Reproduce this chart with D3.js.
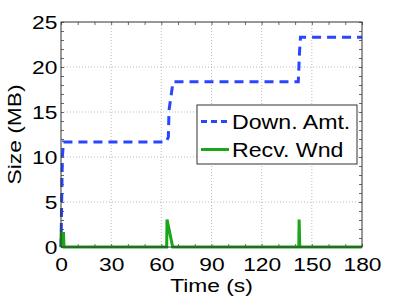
<!DOCTYPE html>
<html>
<head>
  <script src="https://cdnjs.cloudflare.com/ajax/libs/d3/7.8.5/d3.min.js"></script>
  <style>
  body { margin: 0; background: #fff; }
  svg { font-family: "Liberation Sans", Arial, sans-serif; }
  </style>
</head>
<body>
<script>

// values
var xTicks = [0, 30, 60, 90, 120, 150, 180];
var yTicks = [0, 5, 10, 15, 20, 25];

var downTime = [0, 0.8, 1.5, 62.8, 64.2, 64.6, 67, 141.9, 142.6, 143.2, 180];
var downSize = [0, 10, 11.67, 11.67, 12.2, 15.2, 18.35, 18.35, 21.5, 23.3, 23.3];

var recvTime = [0, 0.1, 1.5, 1.8, 63.2, 63.4, 66.8, 142.2, 142.4, 142.8, 180];
var recvSize = [0, 1.5, 1.5, 0, 0, 3.05, 0, 0, 3.05, 0, 0];

var seriesNames = ["Down. Amt.", "Recv. Wnd"];

var width = 399, height = 300;
var MARGINS = {left: 61, top: 22, right: 37, bottom: 53};
var blue = "#2846ff", green = "#1aa51a";
var stretch = 1.2;   // the text in the picture is wider than the font

var svg = d3.select("body").append("svg")
    .attr("width", width)
    .attr("height", height);

var xScale = d3.scaleLinear()
    .domain([0, 180])
    .range([MARGINS.left, width - MARGINS.right]);

var yScale = d3.scaleLinear()
    .domain([0, 25])
    .range([height - MARGINS.bottom, MARGINS.top]);

var x0 = xScale.range()[0], x1 = xScale.range()[1];
var y0 = yScale.range()[0], y1 = yScale.range()[1];

// dotted grid
svg.append("g").selectAll("line.gx")
    .data(xTicks.slice(1, -1))
    .enter().append("line")
    .attr("x1", d => xScale(d)).attr("x2", d => xScale(d))
    .attr("y1", y1).attr("y2", y0)
    .attr("stroke", "#aaa").attr("stroke-width", 0.8)
    .attr("stroke-dasharray", "1,2");

svg.append("g").selectAll("line.gy")
    .data(yTicks.slice(1, -1))
    .enter().append("line")
    .attr("x1", x0).attr("x2", x1)
    .attr("y1", d => yScale(d)).attr("y2", d => yScale(d))
    .attr("stroke", "#aaa").attr("stroke-width", 0.8)
    .attr("stroke-dasharray", "1,2");

// minor ticks, inward on all sides
var minorX = d3.range(0, 181, 10);
var minorY = d3.range(0, 26, 1);

function tickAxis(axis, tr, size, vals) {
  var g = svg.append("g")
      .attr("transform", tr)
      .call(axis.tickValues(vals).tickSize(size).tickFormat(""));
  g.select(".domain").remove();
  g.selectAll(".tick line").attr("stroke", "#444").attr("stroke-width", 0.8);
  return g;
}

tickAxis(d3.axisBottom(xScale), "translate(0," + y0 + ")", -3, minorX);
tickAxis(d3.axisTop(xScale), "translate(0," + y1 + ")", -3, minorX);
tickAxis(d3.axisLeft(yScale), "translate(" + x0 + ",0)", -3, minorY);
tickAxis(d3.axisRight(yScale), "translate(" + x1 + ",0)", -3, minorY);

// labelled axes
var xAxisGroup = svg.append("g")
    .attr("transform", "translate(0," + y0 + ")")
    .call(d3.axisBottom(xScale).tickValues(xTicks).tickSize(0).tickPadding(11));
xAxisGroup.select(".domain").remove();
xAxisGroup.selectAll("text")
    .attr("font-size", "19px").attr("fill", "#000")
    .attr("font-family", "Liberation Sans, Arial, sans-serif")
    .attr("transform", "scale(" + stretch + ",1)");

var yAxisGroup = svg.append("g")
    .attr("transform", "translate(" + x0 + ",0)")
    .call(d3.axisLeft(yScale).tickValues(yTicks).tickSize(0).tickPadding(3));
yAxisGroup.select(".domain").remove();
yAxisGroup.selectAll("text")
    .attr("font-size", "19px").attr("fill", "#000")
    .attr("font-family", "Liberation Sans, Arial, sans-serif")
    .attr("transform", "scale(" + stretch + ",1)");

// lines
var downLine = d3.line()
    .x((d, i) => xScale(downTime[i]))
    .y(d => yScale(d));

var recvLine = d3.line()
    .x((d, i) => xScale(recvTime[i]))
    .y(d => yScale(d));

svg.append("path")
    .datum(downSize)
    .attr("d", downLine)
    .attr("fill", "none")
    .attr("stroke", blue)
    .attr("stroke-width", 3)
    .attr("stroke-dasharray", "9,6");

svg.append("path")
    .datum(recvSize)
    .attr("d", recvLine)
    .attr("fill", "none")
    .attr("stroke", green)
    .attr("stroke-width", 3);

// frame
svg.append("rect")
    .attr("x", x0).attr("y", y1)
    .attr("width", x1 - x0).attr("height", y0 - y1)
    .attr("fill", "none")
    .attr("stroke", "#333")
    .attr("stroke-width", 1);

// stretched text helper
function label(g, x, y, rot, size, anchor, str) {
  g.append("g")
    .attr("transform", "translate(" + x + "," + y + ") rotate(" + rot + ") scale(" + stretch + ",1)")
    .append("text")
    .attr("text-anchor", anchor)
    .attr("font-size", size)
    .text(str);
}

// axis titles
label(svg, (x0 + x1) / 2, 292, 0, "19px", "middle", "Time (s)");
label(svg, 21, (y0 + y1) / 2, -90, "19px", "middle", "Size (MB)");

// legend
var legend = svg.append("g");
legend.append("rect")
    .attr("x", 197).attr("y", 105)
    .attr("width", 160).attr("height", 59)
    .attr("fill", "#fff")
    .attr("stroke", "#333")
    .attr("stroke-width", 1);

var legendRows = [
  {name: seriesNames[0], color: blue, dash: "6,4", y: 121.5},
  {name: seriesNames[1], color: green, dash: null, y: 149.5}
];

legendRows.forEach(function(r) {
  legend.append("line")
      .attr("x1", 201).attr("x2", 229)
      .attr("y1", r.y).attr("y2", r.y)
      .attr("stroke", r.color)
      .attr("stroke-width", 3)
      .attr("stroke-dasharray", r.dash);
  label(legend, 232, r.y + 7, 0, "19.3px", "start", r.name);
});

</script>
</body>
</html>
